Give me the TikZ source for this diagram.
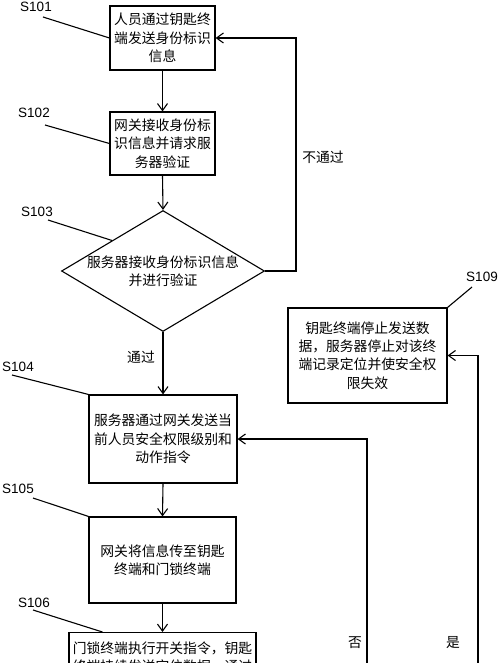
\documentclass[tikz,border=0pt]{standalone}
\usepackage{fontspec}
\setmainfont{Liberation Sans}
\newfontfamily\cjk{Noto Sans CJK SC}
\usetikzlibrary{arrows.meta,shapes.geometric,calc}
\begin{document}
\begin{tikzpicture}[x=1pt,y=-1pt,
  line width=1.1pt,
  every node/.style={inner sep=0pt},
  box/.style={draw,rectangle,align=center,font=\cjk\fontsize{13.8}{18.3}\selectfont},
  cn/.style={align=center,font=\cjk\fontsize{13.8}{18.3}\selectfont},
  steplabel/.style={font=\fontsize{13.5}{15}\selectfont},
  arr/.style={-{Straight Barb[length=7pt,width=10pt,line width=1.1pt]}},
  leader/.style={line width=1.1pt}]
\useasboundingbox (0,0) rectangle (500,663);
% boxes
\node[box,minimum width=105pt,minimum height=64pt] (s101) at (162.5,38) {人员通过钥匙终\\端发送身份标识\\信息};
\node[box,minimum width=105pt,minimum height=63pt] (s102) at (162.5,143.5) {网关接收身份标\\识信息并请求服\\务器验证};
\node[draw,diamond,minimum width=203pt,minimum height=121pt] (s103) at (163,271) {};
\node[cn] (s103t) at (s103.center) {服务器接收身份标识信息\\并进行验证};
\node[box,minimum width=148pt,minimum height=88pt] (s104) at (163,439) {服务器通过网关发送当\\前人员安全权限级别和\\动作指令};
\node[box,minimum width=147pt,minimum height=86pt] (s105) at (162.5,560) {网关将信息传至钥匙\\终端和门锁终端};
\node[draw,rectangle,minimum width=187pt,minimum height=90pt,anchor=north] (s106) at (162.5,632) {};
\node[cn,anchor=north] (s106t) at ([yshift=-9pt]s106.north) {门锁终端执行开关指令，钥匙\\终端持续发送定位数据，通过};
\node[box,minimum width=159pt,minimum height=95pt] (s109) at (367.5,355.5) {钥匙终端停止发送数\\据，服务器停止对该终\\端记录定位并使安全权\\限失效};
% step labels
\node[steplabel] (l101) at (36,7) {S101};
\node[steplabel] (l102) at (34,113) {S102};
\node[steplabel] (l103) at (37,212) {S103};
\node[steplabel] (l104) at (18,367) {S104};
\node[steplabel] (l105) at (18,489) {S105};
\node[steplabel] (l106) at (34,603) {S106};
\node[steplabel] (l109) at (482,277) {S109};
% leader lines
\coordinate (a101) at (43,17);
\coordinate (a102) at (45,125);
\coordinate (a103) at (48,220);
\coordinate (a104) at (12,375);
\coordinate (a105) at (33,498);
\coordinate (a106) at (33,610);
\coordinate (a109) at (472,287);
\draw[leader] (a101) -- (s101.west);
\draw[leader] (a102) -- (s102.west);
\draw[leader] (a103) -- ($(s103.west)!0.5!(s103.north)$);
\draw[leader] (a104) -- (s104.north west);
\draw[leader] (a105) -- (s105.north west);
\draw[leader] (a106) -- ([xshift=34pt]s106.north west);
\draw[leader] (a109) -- (s109.north east);
% flow
\draw[arr] (s101.south) -- (s102.north);
\draw[arr] (s102.south) -- (s103.north);
\coordinate (nb) at (296,38);
\draw[arr] (s103.east) -| (nb) -- (s101.east);
\node[cn] (tnb) at (323,157) {不通过};
\draw[arr] (s103.south) -- (s104.north);
\node[cn] (tpass) at (141,357) {通过};
\draw[arr] (s104.south) -- (s105.north);
\draw[arr] (s105.south) -- (s106.north);
\coordinate (noc) at (367,700);
\draw[arr] (noc) |- (s104.east);
\node[cn] (tno) at (355,643) {否};
\coordinate (yesc) at (478,700);
\draw[arr] (yesc) |- (s109.east);
\node[cn] (tyes) at (453,643) {是};
\end{tikzpicture}
\end{document}
